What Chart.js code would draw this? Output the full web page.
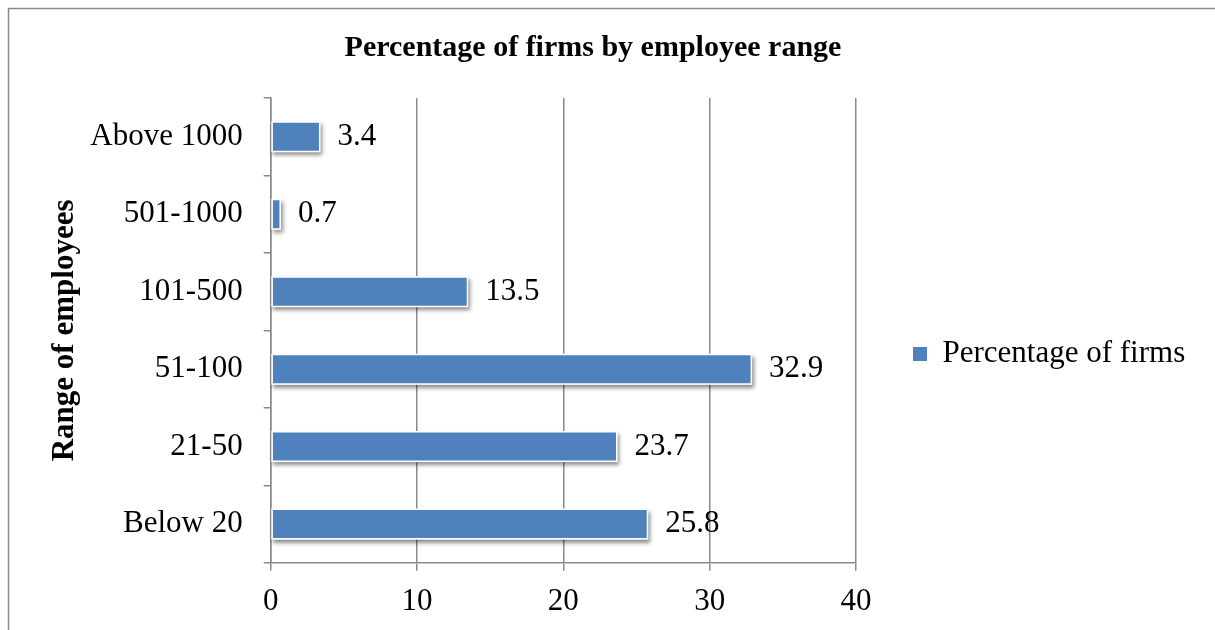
<!DOCTYPE html>
<html>
<head>
<meta charset="utf-8">
<title>Percentage of firms by employee range</title>
<script src="https://cdn.jsdelivr.net/npm/chart.js@4/dist/chart.umd.min.js"></script>
<style>
  html, body { margin: 0; padding: 0; background: #fff; overflow: hidden; }
  canvas { display: block; }
</style>
</head>
<body>
<canvas id="mycanvas" width="1215" height="630"></canvas>
<script>
const categories = ['Above 1000', '501-1000', '101-500', '51-100', '21-50', 'Below 20'];
const firmShares = [3.4, 0.7, 13.5, 32.9, 23.7, 25.8];
const xTicks = [0, 10, 20, 30, 40];
const seriesName = 'Percentage of firms';
const chartTitle = 'Percentage of firms by employee range';
const axisTitle = 'Range of employees';

const serif = "'Liberation Serif', 'Times New Roman', serif";
const gray = '#8a8a8a';
const barBlue = '#4f81bd';

// thin frame on top and left, the rest of the chart box is cut off
const framePlugin = {
    id: 'frame',
    afterDraw(chart) {
        const ctx = chart.ctx;
        ctx.save();
        ctx.strokeStyle = gray;
        ctx.lineWidth = 1.5;
        ctx.beginPath();
        ctx.moveTo(8.5, chart.height);
        ctx.lineTo(8.5, 8.5);
        ctx.lineTo(chart.width, 8.5);
        ctx.stroke();
        ctx.restore();
    }
};

// soft drop shadow under each bar
const shadowPlugin = {
    id: 'barShadow',
    beforeDatasetsDraw(chart) {
        const ctx = chart.ctx;
        chart.getDatasetMeta(0).data.forEach(bar => {
            const p = bar.getProps(['x', 'y', 'base', 'height'], true);
            ctx.save();
            ctx.shadowColor = 'rgba(0,0,0,0.45)';
            ctx.shadowBlur = 4;
            ctx.shadowOffsetX = 2;
            ctx.shadowOffsetY = 3;
            ctx.fillStyle = '#fff';
            ctx.fillRect(p.base, p.y - p.height / 2, p.x - p.base, p.height);
            ctx.restore();
        });
    }
};

// value next to the end of each bar
const valueLabels = {
    id: 'valueLabels',
    afterDatasetsDraw(chart) {
        const ctx = chart.ctx;
        ctx.save();
        ctx.font = '31px ' + serif;
        ctx.fillStyle = '#000';
        ctx.textBaseline = 'middle';
        chart.getDatasetMeta(0).data.forEach((bar, i) => {
            ctx.fillText(firmShares[i].toFixed(1), bar.x + 17, bar.y);
        });
        ctx.restore();
    }
};

const tickFont = { family: serif, size: 31 };

new Chart(document.getElementById('mycanvas'), {
    type: 'bar',
    data: {
        labels: categories,
        datasets: [{
            label: seriesName,
            data: firmShares,
            backgroundColor: barBlue,
            borderColor: '#fff',
            borderWidth: 1.5,
            borderSkipped: false,
            categoryPercentage: 0.8,
            barPercentage: 0.5
        }]
    },
    options: {
        indexAxis: 'y',
        responsive: false,
        animation: false,
        // title is centred over the whole box, so the box runs a bit past the left edge
        layout: { padding: { left: -7, right: 22, top: 0, bottom: -2 } },
        plugins: {
            title: {
                display: true,
                text: chartTitle,
                color: '#000',
                font: { family: serif, size: 30, weight: 'bold' },
                padding: { top: 30, bottom: 32 }
            },
            legend: {
                position: 'right',
                maxWidth: 337,
                title: { display: true, text: '', font: { size: 10 }, padding: { top: 64, bottom: 0 } },
                labels: {
                    boxWidth: 14,
                    boxHeight: 14,
                    padding: 57,
                    color: '#000',
                    font: tickFont,
                    // solid swatch, without the white bar outline
                    generateLabels: chart => Chart.defaults.plugins.legend.labels.generateLabels(chart)
                        .map(item => Object.assign(item, { lineWidth: 0 }))
                }
            },
            tooltip: { enabled: false }
        },
        scales: {
            x: {
                min: xTicks[0],
                max: xTicks[xTicks.length - 1],
                afterBuildTicks: axis => { axis.ticks = xTicks.map(v => ({ value: v })); },
                ticks: { padding: 12, color: '#000', font: tickFont },
                grid: { color: gray, lineWidth: 1.5, tickLength: 8 },
                border: { color: gray, width: 1.5 }
            },
            y: {
                grid: { drawOnChartArea: false, color: gray, lineWidth: 1.5, tickLength: 7, offset: true },
                border: { color: gray, width: 1.5 },
                ticks: { padding: 21, color: '#000', font: tickFont },
                title: {
                    display: true,
                    text: axisTitle,
                    color: '#000',
                    padding: { top: 67, bottom: 0 },
                    font: { family: serif, size: 31, weight: 'bold', lineHeight: 0.3 }
                }
            }
        }
    },
    plugins: [framePlugin, shadowPlugin, valueLabels]
});
</script>
</body>
</html>
